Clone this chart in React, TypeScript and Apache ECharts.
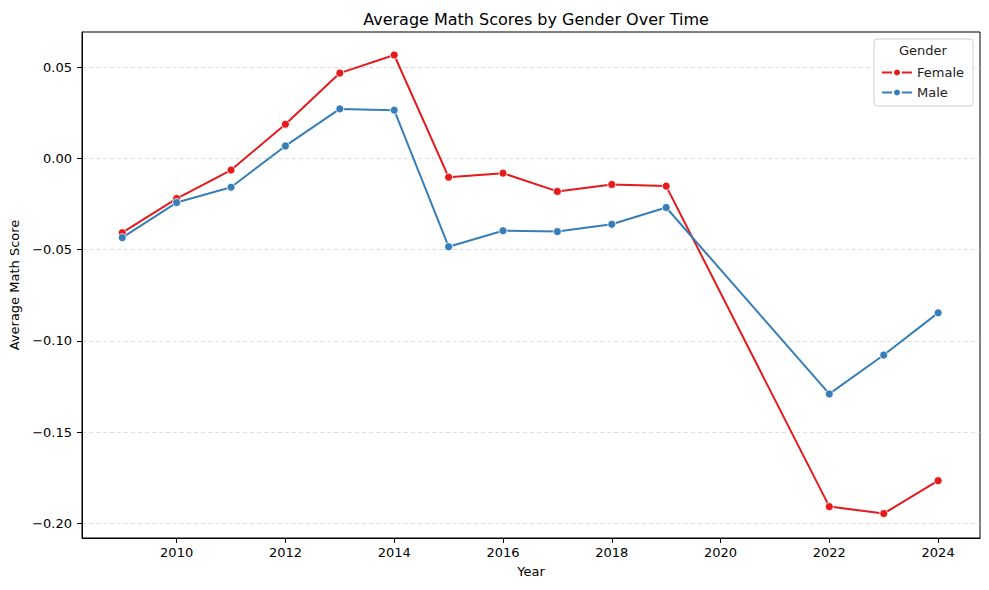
import { useEffect, useRef } from 'react'
import * as echarts from 'echarts'

// Years on the x axis (2020 and 2021 are missing from the data)
const years = [2009, 2010, 2011, 2012, 2013, 2014, 2015, 2016, 2017, 2018, 2019, 2022, 2023, 2024]

// Average math score per year
const femaleScores = [-0.0407, -0.022, -0.0064, 0.0187, 0.0467, 0.0566, -0.0103, -0.0081, -0.0181, -0.0143, -0.0152, -0.1907, -0.1945, -0.1765]
const maleScores = [-0.0434, -0.0242, -0.0158, 0.0068, 0.0271, 0.0264, -0.0484, -0.0396, -0.0401, -0.0361, -0.0269, -0.129, -0.1077, -0.0846]

// Tick positions
const xTicks = [2010, 2012, 2014, 2016, 2018, 2020, 2022, 2024]
const yTicks = [-0.2, -0.15, -0.1, -0.05, 0, 0.05]

const FONT = 'DejaVu Sans'

const fmtY = (v: number) => v.toFixed(2).replace('-', '\u2212')

const App = () => {
  const chartRef = useRef<HTMLDivElement>(null)

  useEffect(() => {
    if (!chartRef.current) return
    const chart = echarts.init(chartRef.current, null, { renderer: 'svg' })

    const option = {
      animation: false,
      textStyle: { fontFamily: FONT },
      title: {
        text: 'Average Math Scores by Gender Over Time',
        left: 531,
        top: 6,
        textAlign: 'center',
        textStyle: { fontFamily: FONT, fontSize: 16, fontWeight: 'normal', color: '#000' }
      },
      grid: {
        left: 82,
        right: 9,
        top: 32,
        bottom: 52,
        show: true,
        borderColor: '#000',
        borderWidth: 1,
        backgroundColor: 'transparent'
      },
      legend: {
        data: ['Female', 'Male'],
        orient: 'vertical',
        left: 876,
        top: 61,
        itemWidth: 30,
        itemHeight: 10,
        itemGap: 7,
        z: 10,
        textStyle: { fontFamily: FONT, fontSize: 13, color: '#222' }
      },
      graphic: [
        {
          type: 'rect',
          z: 5,
          shape: { x: 874, y: 39, width: 99, height: 67, r: 3 },
          style: { fill: 'rgba(255,255,255,0.85)', stroke: '#d0d0d0', lineWidth: 1 }
        },
        {
          type: 'text',
          z: 6,
          x: 923,
          y: 50,
          style: {
            text: 'Gender',
            fontFamily: FONT,
            fontSize: 13,
            fill: '#222',
            textAlign: 'center',
            textVerticalAlign: 'middle'
          }
        }
      ],
      xAxis: {
        type: 'value',
        min: 2008.26,
        max: 2024.77,
        name: 'Year',
        nameLocation: 'middle',
        nameGap: 27,
        nameTextStyle: { fontFamily: FONT, fontSize: 13, color: '#000' },
        axisLine: { show: true, onZero: false, lineStyle: { color: '#000', width: 1 } },
        axisTick: { show: true, length: 5, customValues: xTicks, lineStyle: { color: '#000' } },
        axisLabel: {
          customValues: xTicks,
          fontFamily: FONT,
          fontSize: 13,
          color: '#000',
          margin: 8,
          formatter: (v: number) => String(v)
        },
        splitLine: { show: false }
      },
      yAxis: {
        type: 'value',
        min: -0.2079,
        max: 0.0692,
        name: 'Average Math Score',
        nameLocation: 'middle',
        nameGap: 57,
        nameTextStyle: { fontFamily: FONT, fontSize: 13, color: '#000' },
        axisLine: { show: true, onZero: false, lineStyle: { color: '#000', width: 1 } },
        axisTick: { show: true, length: 5, customValues: yTicks, lineStyle: { color: '#000' } },
        axisLabel: {
          customValues: yTicks,
          fontFamily: FONT,
          fontSize: 13,
          color: '#000',
          margin: 10,
          formatter: fmtY
        },
        splitLine: {
          show: true,
          lineStyle: { color: '#d4d4d4', type: [4, 3], width: 0.8 }
        }
      },
      series: [
        {
          name: 'Female',
          type: 'line',
          data: years.map((y, i) => [y, femaleScores[i]]),
          symbol: 'circle',
          symbolSize: 8,
          color: '#e41a1c',
          lineStyle: { width: 2, color: '#e41a1c' },
          itemStyle: { color: '#e41a1c', borderColor: '#fff', borderWidth: 0.8 }
        },
        {
          name: 'Male',
          type: 'line',
          data: years.map((y, i) => [y, maleScores[i]]),
          symbol: 'circle',
          symbolSize: 8,
          color: '#377eb8',
          lineStyle: { width: 2, color: '#377eb8' },
          itemStyle: { color: '#377eb8', borderColor: '#fff', borderWidth: 0.8 }
        }
      ]
    }

    chart.setOption(option)

    const handleResize = () => chart.resize()
    window.addEventListener('resize', handleResize)

    return () => {
      window.removeEventListener('resize', handleResize)
      chart.dispose()
    }
  }, [])

  return <div ref={chartRef} style={{ width: '989px', height: '590px', margin: '-8px' }} />
}

export default App
